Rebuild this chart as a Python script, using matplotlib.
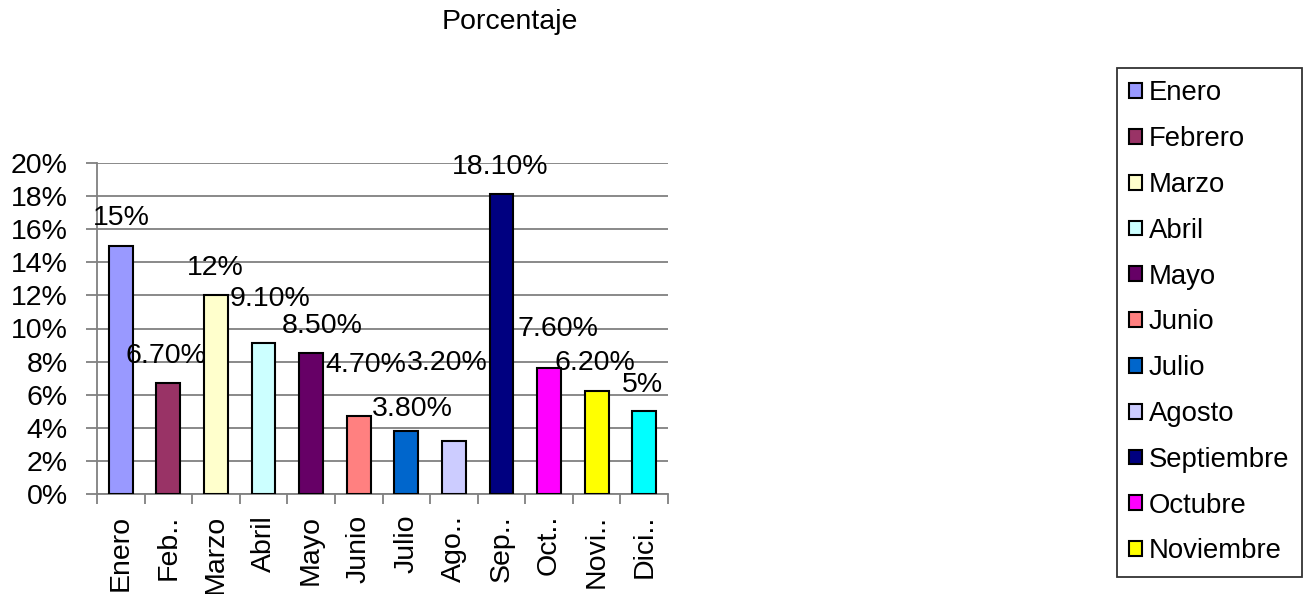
import numpy as np
import matplotlib
matplotlib.use("Agg")
import matplotlib.pyplot as plt
from matplotlib.ticker import MultipleLocator, FuncFormatter

plt.rcParams['font.family'] = ['Liberation Sans', 'DejaVu Sans']

# --------------------------------------------------------------
# Data
# --------------------------------------------------------------
months = ['Enero', 'Febrero', 'Marzo', 'Abril', 'Mayo', 'Junio', 'Julio',
          'Agosto', 'Septiembre', 'Octubre', 'Noviembre', 'Diciembre']
tick_labels = ['Enero', 'Feb..', 'Marzo', 'Abril', 'Mayo', 'Junio', 'Julio',
               'Ago..', 'Sep..', 'Oct..', 'Novi..', 'Dici..']
percent = [15, 6.7, 12, 9.1, 8.5, 4.7, 3.8, 3.2, 18.1, 7.6, 6.2, 5]

colors = ['#9999FF', '#993366', '#FFFFCC', '#CCFFFF', '#660066', '#FF8080',
          '#0066CC', '#CCCCFF', '#000080', '#FF00FF', '#FFFF00', '#00FFFF']

# label nudges in pixels (dx, dy above bar top)
label_shift = [(1, 28), (-2, 27), (-1, 27), (6, 44), (11, 27), (7, 51),
               (6, 22), (-7, 78), (-1, 27), (9, 39), (-2, 28), (-2, 26)]


def fmt_pct(v):
    return f'{v:.0f}%' if float(v).is_integer() else f'{v:.2f}%'


# --------------------------------------------------------------
# Figure
# --------------------------------------------------------------
W, H = 1305, 594
fig = plt.figure(figsize=(W / 100, H / 100), dpi=100)
ax = fig.add_axes([97 / W, 1 - 494 / H, (668 - 97) / W, (494 - 163) / H])

x = np.arange(len(months))
bars = ax.bar(x, percent, width=0.5, color=colors, edgecolor='black',
              linewidth=1.5, zorder=3)

FS = 20.5
for xi, v, (dx, dy) in zip(x, percent, label_shift):
    ax.annotate(fmt_pct(v), (xi, v), xytext=(dx * 0.72, dy * 0.72),
                textcoords='offset points', ha='center', va='center',
                fontsize=FS, color='black', zorder=5)

ax.set_xlim(-0.5, len(months) - 0.5)
ax.set_ylim(0, 20)
ax.yaxis.set_major_locator(MultipleLocator(2))
ax.yaxis.set_major_formatter(FuncFormatter(lambda v, _: f'{v:.0f}%'))
ax.grid(axis='y', color='#808080', linewidth=1.3, zorder=0)

# category boundary ticks on x, labels centred under bars
ax.set_xticks(np.arange(-0.5, len(months), 1.0))
ax.set_xticklabels([])
ax.set_xticks(x, minor=True)
ax.set_xticklabels(tick_labels, minor=True, rotation=90, fontsize=FS)
ax.tick_params(axis='x', which='major', length=7, color='#808080', width=1.3)
ax.tick_params(axis='x', which='minor', length=0, pad=15)
ax.tick_params(axis='y', length=8, color='#808080', width=1.3,
               labelsize=FS, pad=13)

for side in ('top', 'right'):
    ax.spines[side].set_visible(False)
for side in ('left', 'bottom'):
    ax.spines[side].set_color('#808080')
    ax.spines[side].set_linewidth(1.3)

fig.text(510 / W, 1 - 22 / H, 'Porcentaje', ha='center', va='center',
         fontsize=FS)

leg = fig.legend(bars[:11], months[:11], loc='upper left',
                 bbox_to_anchor=(1117 / W, 1 - 68 / H), fontsize=19.8,
                 frameon=True, fancybox=False, shadow=False,
                 handlelength=0.45, handleheight=0.45, handletextpad=0.25,
                 labelspacing=0.72, borderpad=0.45, borderaxespad=0)
leg.get_frame().set_edgecolor('black')
leg.get_frame().set_linewidth(1.3)
for h in leg.legend_handles:
    h.set_linewidth(1.5)

fig.savefig('out.png', dpi=100)
